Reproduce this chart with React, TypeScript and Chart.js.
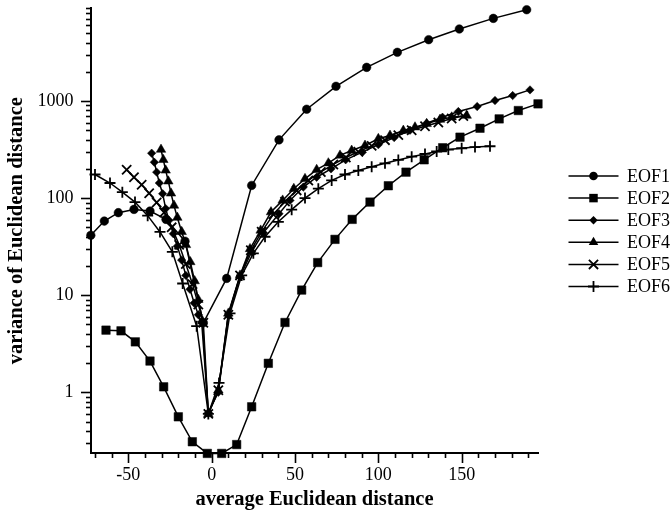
import React, { useEffect, useRef } from 'react';
import { Chart, registerables } from 'chart.js';

Chart.register(...registerables);

const SERIF = "'Liberation Serif', 'Times New Roman', serif";

const seriesNames = ['EOF1', 'EOF2', 'EOF3', 'EOF4', 'EOF5', 'EOF6'];

const eof1X = [-72.5, -64.4, -56, -46.6, -37, -27.4, -16, -5, 9, 24, 40.4, 57, 74.6, 93, 111.4, 130.2, 148.6, 169, 189];
const eof1Y = [41.4, 58, 70.8, 76.5, 73.5, 60.4, 36, 5.2, 14.9, 135, 398, 822, 1416, 2219, 3170, 4277, 5510, 7085, 8700];

const eof2X = [-63.4, -54.4, -45.8, -37, -28.8, -20, -11.6, -2.6, 6, 15, 24, 34, 44, 54, 63.6, 74, 84.3, 95, 106, 116.6, 127.5, 138.6, 149, 161, 172.5, 184, 195.8];
const eof2Y = [4.37, 4.3, 3.31, 2.1, 1.14, 0.56, 0.31, 0.235, 0.235, 0.29, 0.71, 1.99, 5.24, 11.3, 21.7, 37.6, 60.4, 91, 134, 185, 248, 330, 424, 524, 654, 797, 934];

const eof3X = [-36, -34.4, -33, -31.4, -29.4, -27.6, -25.6, -23, -20.6, -18, -15.5, -13, -10.5, -8, -6, -2, 4, 10, 17, 24, 31, 40.4, 47, 55, 63, 71.6, 80.4, 90.4, 100, 109.5, 119, 129, 138.5, 148, 159.3, 170, 180.6, 191];
const eof3Y = [290, 234, 185, 143, 111, 78, 59, 43, 32, 23, 16, 11.5, 8.3, 6.3, 5.3, 0.62, 1.0, 6.2, 15.5, 28, 44, 69, 94.7, 130, 164, 200, 248, 297, 355, 420, 500, 590, 680, 778, 876, 1010, 1137, 1300];

const eof4X = [-30.4, -29, -27.6, -26, -24.4, -22.6, -20.6, -18, -15.4, -12.8, -10.2, -8, -5.5, -2, 4, 10, 17, 23, 29.4, 35.6, 42.6, 49.3, 56, 63, 70, 77, 84, 92, 100, 107, 115, 122, 129, 137, 144, 153];
const eof4Y = [316, 248, 193, 149, 112, 84, 63, 45, 33, 22, 14, 9, 5.4, 0.6, 1.05, 6.5, 16, 30, 46.5, 71.8, 94.7, 125, 158, 196, 229, 275, 309, 348, 408, 441, 496, 537, 582, 644, 680, 708];

const eof5X = [-51, -46.6, -42, -37.5, -33, -28.5, -24, -19.5, -15.5, -11.5, -8, -5, -2, 4, 10, 17, 23.5, 30, 37, 44, 51, 58, 65.5, 73, 80.5, 88, 96, 104, 112, 120, 128, 136, 144, 151];
const eof5Y = [196, 164, 137, 112, 90, 71, 50, 33, 21, 13, 8, 5.2, 0.6, 1.05, 6.3, 16, 29, 45, 68, 92, 120, 152, 186, 222, 262, 300, 345, 395, 445, 500, 550, 600, 660, 700];

const eof6X = [-70, -61, -53.6, -46, -38.4, -31, -23.6, -17.4, -9, -2, 4.4, 11, 18, 25, 32, 40, 48, 56, 64, 72, 80, 88, 96, 104, 112, 120, 128, 135, 142, 150, 158, 167];
const eof6Y = [175, 143, 115, 91, 66, 44.8, 28, 13.2, 4.8, 0.6, 1.25, 6.5, 16, 27, 40, 57, 76, 100, 125, 152, 175, 192, 210, 228, 247, 267, 285, 302, 316, 326, 335, 342];

const xLabelTicks = [-50, 0, 50, 100, 150];
const yLabelTicks = [1, 10, 100, 1000];

const X_MIN = -72.4;
const X_MAX = 195.8;
const Y_MIN = 0.2374;
const Y_MAX = 9000;

const seriesX = [eof1X, eof2X, eof3X, eof4X, eof5X, eof6X];
const seriesY = [eof1Y, eof2Y, eof3Y, eof4Y, eof5Y, eof6Y];

const pointStyles = ['circle', 'rect', 'rectRot', 'triangle', 'crossRot', 'cross'];
const pointRadii = [4.3, 6, 4.2, 5.5, 6.5, 5.5];

function drawMarker(ctx: CanvasRenderingContext2D, style: string, x: number, y: number, r: number) {
  ctx.beginPath();
  if (style === 'circle') {
    ctx.arc(x, y, r, 0, Math.PI * 2);
    ctx.fill();
  } else if (style === 'rect') {
    const s = r * Math.SQRT1_2;
    ctx.rect(x - s, y - s, 2 * s, 2 * s);
    ctx.fill();
  } else if (style === 'rectRot') {
    ctx.moveTo(x, y - r);
    ctx.lineTo(x + r, y);
    ctx.lineTo(x, y + r);
    ctx.lineTo(x - r, y);
    ctx.closePath();
    ctx.fill();
  } else if (style === 'triangle') {
    ctx.moveTo(x, y - r);
    ctx.lineTo(x + 0.866 * r, y + 0.5 * r);
    ctx.lineTo(x - 0.866 * r, y + 0.5 * r);
    ctx.closePath();
    ctx.fill();
  } else if (style === 'cross') {
    ctx.moveTo(x, y - r);
    ctx.lineTo(x, y + r);
    ctx.moveTo(x - r, y);
    ctx.lineTo(x + r, y);
    ctx.stroke();
  } else if (style === 'crossRot') {
    const d = r * Math.SQRT1_2;
    ctx.moveTo(x - d, y - d);
    ctx.lineTo(x + d, y + d);
    ctx.moveTo(x + d, y - d);
    ctx.lineTo(x - d, y + d);
    ctx.stroke();
  }
}

export default function App() {
  const ref = useRef<HTMLCanvasElement>(null);

  useEffect(() => {
    if (!ref.current) return;

    const datasets = seriesNames.map((name, i) => {
      const isCross = pointStyles[i] === 'cross' || pointStyles[i] === 'crossRot';
      return {
        label: name,
        data: seriesX[i].map((x, j) => ({ x, y: seriesY[i][j] })),
        borderColor: '#000',
        backgroundColor: '#000',
        borderWidth: 1.5,
        pointStyle: pointStyles[i] as any,
        pointRadius: pointRadii[i],
        pointBackgroundColor: '#000',
        pointBorderColor: '#000',
        pointBorderWidth: isCross ? 1.8 : 0.5,
        showLine: true,
        tension: 0,
        clip: false as any,
      };
    });

    const axisPlugin = {
      id: 'axisDecor',
      afterDraw(chart: any) {
        const ctx: CanvasRenderingContext2D = chart.ctx;
        const xs = chart.scales.x;
        const ys = chart.scales.y;
        const { left, bottom } = chart.chartArea;
        ctx.save();
        ctx.strokeStyle = '#000';
        ctx.fillStyle = '#000';
        ctx.lineWidth = 1.6;
        for (let v = -70; v <= 190; v += 10) {
          const px = Math.round(xs.getPixelForValue(v)) + 0.5;
          const len = v % 50 === 0 ? 10 : 5;
          ctx.beginPath();
          ctx.moveTo(px, bottom);
          ctx.lineTo(px, bottom + len);
          ctx.stroke();
        }
        for (const d of [0.1, 1, 10, 100, 1000]) {
          for (let k = 1; k <= 9; k++) {
            const v = k * d;
            if (v < Y_MIN || v > Y_MAX) continue;
            const py = Math.round(ys.getPixelForValue(v)) + 0.5;
            const len = k === 1 ? 10 : 5;
            ctx.beginPath();
            ctx.moveTo(left - len, py);
            ctx.lineTo(left, py);
            ctx.stroke();
          }
        }
        const lx0 = 568.5;
        const lx1 = 618.5;
        const mx = 593.5;
        const tx = 627;
        ctx.font = `18px ${SERIF}`;
        ctx.textBaseline = 'middle';
        ctx.textAlign = 'left';
        seriesNames.forEach((name, i) => {
          const y = 176 + i * 22.1;
          ctx.lineWidth = 1.5;
          ctx.beginPath();
          ctx.moveTo(lx0, y);
          ctx.lineTo(lx1, y);
          ctx.stroke();
          ctx.lineWidth = 1.8;
          drawMarker(ctx, pointStyles[i], mx, y, pointRadii[i]);
          ctx.fillText(name, tx, y + 1);
        });
        ctx.restore();
      },
    };

    const chart = new Chart(ref.current, {
      type: 'scatter',
      data: { datasets },
      options: {
        animation: false,
        responsive: false,
        events: [],
        layout: { padding: { left: 0, top: 8, right: 133, bottom: 0 } },
        plugins: { legend: { display: false }, tooltip: { enabled: false } },
        scales: {
          x: {
            type: 'linear',
            min: X_MIN,
            max: X_MAX,
            afterFit: (s: any) => { s.height = 67; s.paddingLeft = 0; s.paddingRight = 0; s.paddingTop = 0; s.paddingBottom = 0; },
            afterBuildTicks: (s: any) => { s.ticks = xLabelTicks.map((v) => ({ value: v })); },
            grid: { display: false, drawTicks: false },
            border: { display: true, color: '#000', width: 2 },
            ticks: {
              autoSkip: false,
              maxRotation: 0,
              padding: 11.5,
              color: '#000',
              font: { family: SERIF, size: 18 },
              callback: (v: any) => String(v),
            },
            title: {
              display: true,
              text: 'average Euclidean distance',
              color: '#000',
              font: { family: SERIF, size: 20.5, weight: 'bold' },
              padding: { top: 0, bottom: 8 },
            },
          },
          y: {
            type: 'logarithmic',
            min: Y_MIN,
            max: Y_MAX,
            afterFit: (s: any) => { s.width = 91; s.paddingTop = 0; s.paddingBottom = 0; s.paddingLeft = 0; s.paddingRight = 0; },
            afterBuildTicks: (s: any) => { s.ticks = yLabelTicks.map((v) => ({ value: v })); },
            grid: { display: false, drawTicks: false },
            border: { display: true, color: '#000', width: 2 },
            ticks: {
              autoSkip: false,
              padding: 17.5,
              color: '#000',
              font: { family: SERIF, size: 18 },
              callback: (v: any) => String(v),
            },
            title: {
              display: true,
              text: 'variance of Euclidean distance',
              color: '#000',
              font: { family: SERIF, size: 20.5, weight: 'bold' },
              padding: { top: 4, bottom: 0 },
            },
          },
        },
      },
      plugins: [axisPlugin],
    });

    return () => chart.destroy();
  }, []);

  return (
    <div style={{ position: 'fixed', left: 0, top: 0, width: 671, height: 520, background: '#fff' }}>
      <canvas ref={ref} width={671} height={520} />
    </div>
  );
}
